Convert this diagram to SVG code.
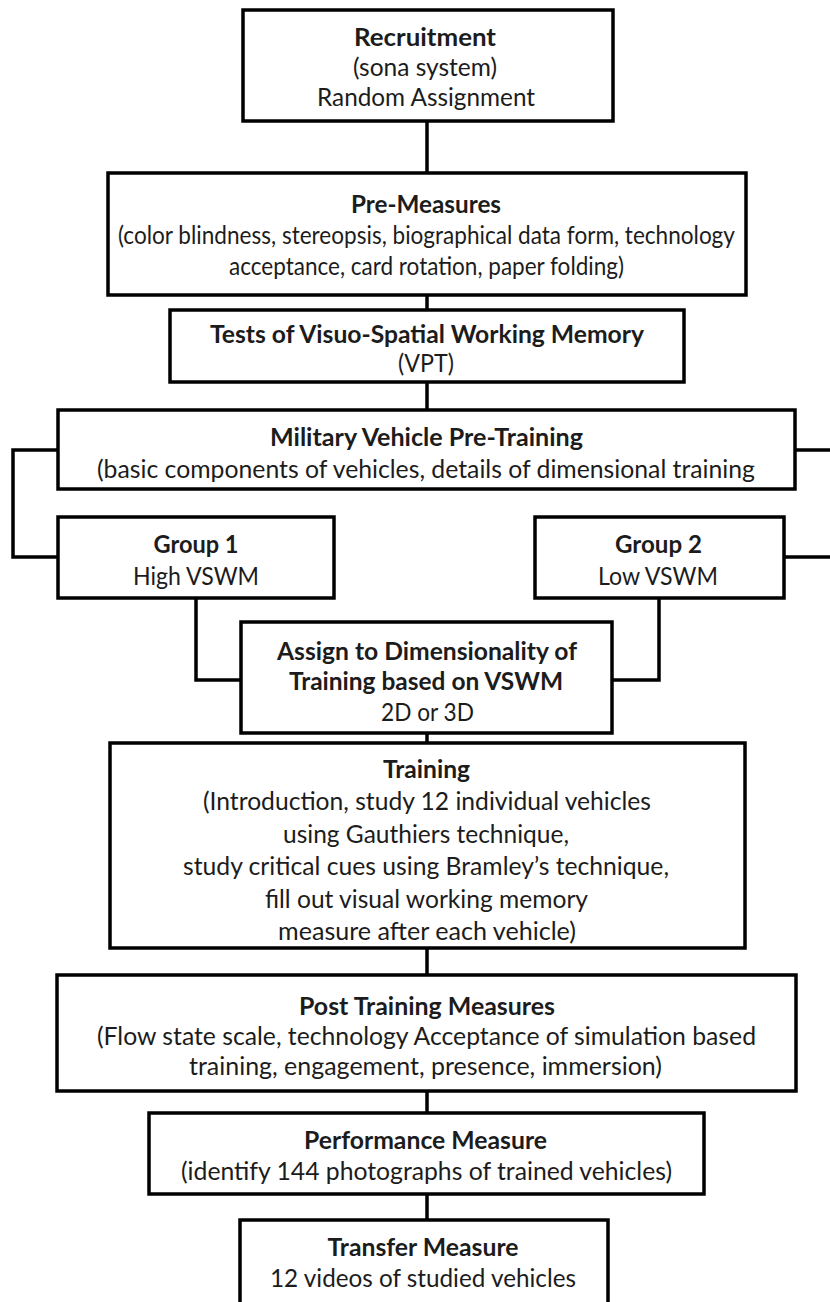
<svg xmlns="http://www.w3.org/2000/svg" width="830" height="1302" viewBox="0 0 830 1302">
  <style>
    .box { fill: #ffffff; stroke: #000000; stroke-width: 3.5; }
    .wire { fill: none; stroke: #000000; stroke-width: 3.5; }
    text { font-family: Lato, "Open Sans", "Liberation Sans", sans-serif; font-size: 24.5px; fill: #1c1c1c; text-anchor: middle; }
    .b { font-weight: bold; }
  </style>
  <rect width="830" height="1302" fill="#ffffff"/>

  <!-- connectors -->
  <g id="connectors">
    <line class="wire" x1="427" y1="121" x2="427" y2="173"/>
    <line class="wire" x1="427" y1="295" x2="427" y2="310"/>
    <line class="wire" x1="427" y1="382" x2="427" y2="410"/>
    <polyline class="wire" points="58,450 13,450 13,557 58,557"/>
    <polyline class="wire" points="795,450 836,450 836,557 784,557"/>
    <polyline class="wire" points="196,598 196,680 241,680"/>
    <polyline class="wire" points="659,598 659,680 612,680"/>
    <line class="wire" x1="427" y1="733" x2="427" y2="743"/>
    <line class="wire" x1="427" y1="948" x2="427" y2="975"/>
    <line class="wire" x1="427" y1="1091" x2="427" y2="1113"/>
    <line class="wire" x1="427" y1="1194" x2="427" y2="1220"/>
  </g>

  <g id="recruitment">
    <rect class="box" x="243" y="10" width="370" height="111"/>
    <text class="b" x="425" y="46" textLength="142" lengthAdjust="spacingAndGlyphs">Recruitment</text>
    <text x="425" y="76" textLength="144" lengthAdjust="spacingAndGlyphs">(sona system)</text>
    <text x="426" y="106" textLength="218" lengthAdjust="spacingAndGlyphs">Random Assignment</text>
  </g>

  <g id="pre-measures">
    <rect class="box" x="108" y="173" width="638" height="122"/>
    <text class="b" x="426" y="213" textLength="150" lengthAdjust="spacingAndGlyphs">Pre-Measures</text>
    <text x="426.5" y="244" textLength="617" lengthAdjust="spacingAndGlyphs">(color blindness, stereopsis, biographical data form, technology</text>
    <text x="426.5" y="275" textLength="395" lengthAdjust="spacingAndGlyphs">acceptance, card rotation, paper folding)</text>
  </g>

  <g id="vswm-tests">
    <rect class="box" x="170" y="310" width="514" height="72"/>
    <text class="b" x="427" y="343" textLength="434" lengthAdjust="spacingAndGlyphs">Tests of Visuo-Spatial Working Memory</text>
    <text x="426" y="372" textLength="56" lengthAdjust="spacingAndGlyphs">(VPT)</text>
  </g>

  <g id="pre-training">
    <rect class="box" x="58" y="410" width="737" height="79"/>
    <text class="b" x="426.5" y="446" textLength="313" lengthAdjust="spacingAndGlyphs">Military Vehicle Pre-Training</text>
    <text x="426" y="478" textLength="658" lengthAdjust="spacingAndGlyphs">(basic components of vehicles, details of dimensional training</text>
  </g>

  <g id="group-1">
    <rect class="box" x="58" y="517" width="276" height="81"/>
    <text class="b" x="196" y="553" textLength="85" lengthAdjust="spacingAndGlyphs">Group 1</text>
    <text x="196" y="585" textLength="126" lengthAdjust="spacingAndGlyphs">High VSWM</text>
  </g>

  <g id="group-2">
    <rect class="box" x="535" y="517" width="249" height="81"/>
    <text class="b" x="658.5" y="553" textLength="87" lengthAdjust="spacingAndGlyphs">Group 2</text>
    <text x="658" y="585" textLength="120" lengthAdjust="spacingAndGlyphs">Low VSWM</text>
  </g>

  <g id="assign">
    <rect class="box" x="241" y="622" width="371" height="111"/>
    <text class="b" x="427" y="660" textLength="300" lengthAdjust="spacingAndGlyphs">Assign to Dimensionality of</text>
    <text class="b" x="426" y="690" textLength="274" lengthAdjust="spacingAndGlyphs">Training based on VSWM</text>
    <text x="427.5" y="721" textLength="93" lengthAdjust="spacingAndGlyphs">2D or 3D</text>
  </g>

  <g id="training">
    <rect class="box" x="110" y="743" width="635" height="205"/>
    <text class="b" x="426.5" y="778" textLength="87" lengthAdjust="spacingAndGlyphs">Training</text>
    <text x="427" y="810" textLength="448" lengthAdjust="spacingAndGlyphs">(Introduction, study 12 individual vehicles</text>
    <text x="426" y="843" textLength="286" lengthAdjust="spacingAndGlyphs">using Gauthiers technique,</text>
    <text x="426" y="875" textLength="486" lengthAdjust="spacingAndGlyphs">study critical cues using Bramley’s technique,</text>
    <text x="426.5" y="908" textLength="323" lengthAdjust="spacingAndGlyphs">fill out visual working memory</text>
    <text x="427" y="940" textLength="298" lengthAdjust="spacingAndGlyphs">measure after each vehicle)</text>
  </g>

  <g id="post-training">
    <rect class="box" x="57" y="975" width="739" height="116"/>
    <text class="b" x="427" y="1015" textLength="256" lengthAdjust="spacingAndGlyphs">Post Training Measures</text>
    <text x="426.5" y="1045" textLength="659" lengthAdjust="spacingAndGlyphs">(Flow state scale, technology Acceptance of simulation based</text>
    <text x="425.5" y="1075" textLength="473" lengthAdjust="spacingAndGlyphs">training, engagement, presence, immersion)</text>
  </g>

  <g id="performance">
    <rect class="box" x="149" y="1113" width="555" height="81"/>
    <text class="b" x="425.5" y="1149" textLength="243" lengthAdjust="spacingAndGlyphs">Performance Measure</text>
    <text x="426.5" y="1180" textLength="491" lengthAdjust="spacingAndGlyphs">(identify 144 photographs of trained vehicles)</text>
  </g>

  <g id="transfer">
    <rect class="box" x="240" y="1220" width="368" height="100"/>
    <text class="b" x="423" y="1256" textLength="191" lengthAdjust="spacingAndGlyphs">Transfer Measure</text>
    <text x="423" y="1287" textLength="306" lengthAdjust="spacingAndGlyphs">12 videos of studied vehicles</text>
  </g>
</svg>
